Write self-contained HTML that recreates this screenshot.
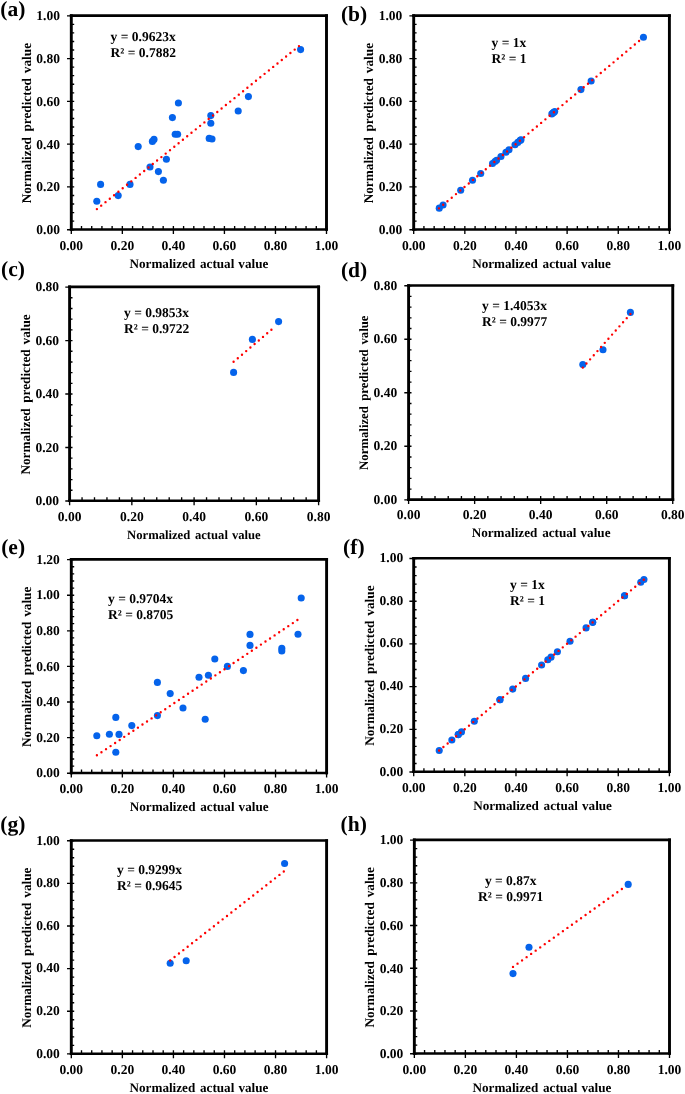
<!DOCTYPE html>
<html lang="en"><head><meta charset="utf-8"><title>Normalized predicted vs actual value</title>
<style>html,body{margin:0;padding:0;background:#fff}body{width:685px;height:1094px;overflow:hidden}svg{display:block;filter:blur(0.3px)}text{font-family:"Liberation Serif","Times New Roman",Times,serif;font-weight:bold;fill:#000;white-space:pre;text-rendering:geometricPrecision}.tk{font-size:13.5px}.ti{font-size:13.15px}.eq{font-size:13.5px}.lb{font-size:21.5px}.axv{stroke:#000;stroke-width:2.9;fill:none}.axh{stroke:#000;stroke-width:2.6;fill:none}.t{stroke:#000;stroke-width:1.35;fill:none}.d{fill:#0563EB}.tl{stroke:#FF0000;stroke-width:2.4;stroke-linecap:round;stroke-dasharray:0 5.5;fill:none}</style></head><body>
<svg width="685" height="1094" viewBox="0 0 685 1094">
<rect width="685" height="1094" fill="#fff"/>
<g>
<text class="lb" x="0.35" y="16.2">(a)</text>
<path class="t" d="M71.3 226V234M81.51 226V229.5M91.72 226V229.5M101.92 226V229.5M112.13 226V229.5M122.34 226V234M132.55 226V229.5M142.76 226V229.5M152.96 226V229.5M163.17 226V229.5M173.38 226V234M183.59 226V229.5M193.8 226V229.5M204 226V229.5M214.21 226V229.5M224.42 226V234M234.63 226V229.5M244.84 226V229.5M255.04 226V229.5M265.25 226V229.5M275.46 226V234M285.67 226V229.5M295.88 226V229.5M306.08 226V229.5M316.29 226V229.5M326.5 226V234M67 229.7H74.2M71.3 221.14H74.2M71.3 212.59H74.2M71.3 204.03H74.2M71.3 195.48H74.2M67 186.92H74.2M71.3 178.36H74.2M71.3 169.81H74.2M71.3 161.25H74.2M71.3 152.7H74.2M67 144.14H74.2M71.3 135.58H74.2M71.3 127.03H74.2M71.3 118.47H74.2M71.3 109.92H74.2M67 101.36H74.2M71.3 92.8H74.2M71.3 84.25H74.2M71.3 75.69H74.2M71.3 67.14H74.2M67 58.58H74.2M71.3 50.02H74.2M71.3 41.47H74.2M71.3 32.91H74.2M71.3 24.36H74.2M67 15.8H74.2"/>
<path class="axv" d="M71.3 14.3V230.8M326.5 14.3V230.8"/>
<path class="axh" d="M69.85 15.6H327.95M69.85 229.5H327.95"/>
<text class="tk" text-anchor="middle" x="71.3" y="250.1">0.00</text>
<text class="tk" text-anchor="middle" x="122.34" y="250.1">0.20</text>
<text class="tk" text-anchor="middle" x="173.38" y="250.1">0.40</text>
<text class="tk" text-anchor="middle" x="224.42" y="250.1">0.60</text>
<text class="tk" text-anchor="middle" x="275.46" y="250.1">0.80</text>
<text class="tk" text-anchor="middle" x="326.5" y="250.1">1.00</text>
<text class="tk" text-anchor="end" x="59.9" y="234.1">0.00</text>
<text class="tk" text-anchor="end" x="59.9" y="191.32">0.20</text>
<text class="tk" text-anchor="end" x="59.9" y="148.54">0.40</text>
<text class="tk" text-anchor="end" x="59.9" y="105.76">0.60</text>
<text class="tk" text-anchor="end" x="59.9" y="62.98">0.80</text>
<text class="tk" text-anchor="end" x="59.9" y="20.2">1.00</text>
<text class="ti" text-anchor="middle" x="198.9" y="267.7">Normalized<tspan dx="1.5"> actual</tspan><tspan dx="0.8"> value</tspan></text>
<text class="ti" style="font-size:13.25px" text-anchor="middle" transform="translate(30.9 123.15) rotate(-90)">Normalized<tspan dx="2.2"> predicted</tspan><tspan dx="1.6"> value</tspan></text>
<text class="eq" x="110.6" y="41.4">y = 0.9623x</text>
<text class="eq" x="110.6" y="57.4">R² = 0.7882</text>
<g class="d"><circle cx="96.8" cy="201.2" r="3.55"/><circle cx="100.6" cy="184.4" r="3.55"/><circle cx="118.2" cy="195.6" r="3.55"/><circle cx="130" cy="184.4" r="3.55"/><circle cx="138.2" cy="146.6" r="3.55"/><circle cx="150" cy="167" r="3.55"/><circle cx="152.4" cy="141.4" r="3.55"/><circle cx="154" cy="139.4" r="3.55"/><circle cx="158.4" cy="171.6" r="3.55"/><circle cx="163.4" cy="180.2" r="3.55"/><circle cx="166.4" cy="159.2" r="3.55"/><circle cx="172.4" cy="117.6" r="3.55"/><circle cx="175.2" cy="134.2" r="3.55"/><circle cx="177.6" cy="134.2" r="3.55"/><circle cx="178.4" cy="103" r="3.55"/><circle cx="209.2" cy="138.4" r="3.55"/><circle cx="212" cy="139" r="3.55"/><circle cx="210.8" cy="115.6" r="3.55"/><circle cx="210.8" cy="123.2" r="3.55"/><circle cx="238.2" cy="111" r="3.55"/><circle cx="248.4" cy="96.6" r="3.55"/><circle cx="300.6" cy="49.6" r="3.55"/></g>
<path class="tl" style="stroke-dasharray:0 5.524" d="M96.9 209.1L299 46.1"/>
</g>
<g>
<text class="lb" x="340.9" y="20.8">(b)</text>
<path class="t" d="M413.7 226V234M423.93 226V229.5M434.16 226V229.5M444.38 226V229.5M454.61 226V229.5M464.84 226V234M475.07 226V229.5M485.3 226V229.5M495.52 226V229.5M505.75 226V229.5M515.98 226V234M526.21 226V229.5M536.44 226V229.5M546.66 226V229.5M556.89 226V229.5M567.12 226V234M577.35 226V229.5M587.58 226V229.5M597.8 226V229.5M608.03 226V229.5M618.26 226V234M628.49 226V229.5M638.72 226V229.5M648.94 226V229.5M659.17 226V229.5M669.4 226V234M409.4 229.7H416.6M413.7 221.14H416.6M413.7 212.59H416.6M413.7 204.03H416.6M413.7 195.48H416.6M409.4 186.92H416.6M413.7 178.36H416.6M413.7 169.81H416.6M413.7 161.25H416.6M413.7 152.7H416.6M409.4 144.14H416.6M413.7 135.58H416.6M413.7 127.03H416.6M413.7 118.47H416.6M413.7 109.92H416.6M409.4 101.36H416.6M413.7 92.8H416.6M413.7 84.25H416.6M413.7 75.69H416.6M413.7 67.14H416.6M409.4 58.58H416.6M413.7 50.02H416.6M413.7 41.47H416.6M413.7 32.91H416.6M413.7 24.36H416.6M409.4 15.8H416.6"/>
<path class="axv" d="M413.7 14.3V230.8M669.4 14.3V230.8"/>
<path class="axh" d="M412.25 15.6H670.85M412.25 229.5H670.85"/>
<text class="tk" text-anchor="middle" x="413.7" y="250.1">0.00</text>
<text class="tk" text-anchor="middle" x="464.84" y="250.1">0.20</text>
<text class="tk" text-anchor="middle" x="515.98" y="250.1">0.40</text>
<text class="tk" text-anchor="middle" x="567.12" y="250.1">0.60</text>
<text class="tk" text-anchor="middle" x="618.26" y="250.1">0.80</text>
<text class="tk" text-anchor="middle" x="669.4" y="250.1">1.00</text>
<text class="tk" text-anchor="end" x="402.3" y="234.2">0.00</text>
<text class="tk" text-anchor="end" x="402.3" y="191.42">0.20</text>
<text class="tk" text-anchor="end" x="402.3" y="148.64">0.40</text>
<text class="tk" text-anchor="end" x="402.3" y="105.86">0.60</text>
<text class="tk" text-anchor="end" x="402.3" y="63.08">0.80</text>
<text class="tk" text-anchor="end" x="402.3" y="20.3">1.00</text>
<text class="ti" text-anchor="middle" x="541.55" y="267.7">Normalized<tspan dx="1.5"> actual</tspan><tspan dx="0.8"> value</tspan></text>
<text class="ti" style="font-size:13.25px" text-anchor="middle" transform="translate(373.4 123.15) rotate(-90)">Normalized<tspan dx="2.2"> predicted</tspan><tspan dx="1.6"> value</tspan></text>
<text class="eq" x="491.6" y="47.4">y = 1x</text>
<text class="eq" x="491.6" y="63.4">R² = 1</text>
<g class="d"><circle cx="439.25" cy="208.13" r="3.55"/><circle cx="443.06" cy="204.94" r="3.55"/><circle cx="460.69" cy="190.19" r="3.55"/><circle cx="472.52" cy="180.3" r="3.55"/><circle cx="480.73" cy="173.43" r="3.55"/><circle cx="492.55" cy="163.54" r="3.55"/><circle cx="494.96" cy="161.52" r="3.55"/><circle cx="496.56" cy="160.18" r="3.55"/><circle cx="500.97" cy="156.5" r="3.55"/><circle cx="505.98" cy="152.3" r="3.55"/><circle cx="508.99" cy="149.79" r="3.55"/><circle cx="515" cy="144.76" r="3.55"/><circle cx="517.8" cy="142.41" r="3.55"/><circle cx="520.21" cy="140.4" r="3.55"/><circle cx="521.01" cy="139.73" r="3.55"/><circle cx="551.87" cy="113.92" r="3.55"/><circle cx="554.68" cy="111.57" r="3.55"/><circle cx="553.47" cy="112.58" r="3.55"/><circle cx="553.47" cy="112.58" r="3.55"/><circle cx="580.93" cy="89.61" r="3.55"/><circle cx="591.15" cy="81.06" r="3.55"/><circle cx="643.45" cy="37.31" r="3.55"/></g>
<path class="tl" style="stroke-dasharray:0 5.551" d="M438.96 208.37L643.32 37.42"/>
</g>
<g>
<text class="lb" x="1.05" y="276.4">(c)</text>
<path class="t" d="M69.6 497.25V505.25M82.05 497.25V500.75M94.5 497.25V500.75M106.95 497.25V500.75M119.4 497.25V500.75M131.85 497.25V505.25M144.3 497.25V500.75M156.75 497.25V500.75M169.2 497.25V500.75M181.65 497.25V500.75M194.1 497.25V505.25M206.55 497.25V500.75M219 497.25V500.75M231.45 497.25V500.75M243.9 497.25V500.75M256.35 497.25V505.25M268.8 497.25V500.75M281.25 497.25V500.75M293.7 497.25V500.75M306.15 497.25V500.75M318.6 497.25V505.25M65.3 500.95H72.5M69.6 490.26H72.5M69.6 479.56H72.5M69.6 468.87H72.5M69.6 458.18H72.5M65.3 447.49H72.5M69.6 436.8H72.5M69.6 426.1H72.5M69.6 415.41H72.5M69.6 404.72H72.5M65.3 394.02H72.5M69.6 383.33H72.5M69.6 372.64H72.5M69.6 361.95H72.5M69.6 351.25H72.5M65.3 340.56H72.5M69.6 329.87H72.5M69.6 319.18H72.5M69.6 308.48H72.5M69.6 297.79H72.5M65.3 287.1H72.5"/>
<path class="axv" d="M69.6 285.6V502.05M318.6 285.6V502.05"/>
<path class="axh" d="M68.15 286.9H320.05M68.15 500.75H320.05"/>
<text class="tk" text-anchor="middle" x="69.6" y="520.95">0.00</text>
<text class="tk" text-anchor="middle" x="131.85" y="520.95">0.20</text>
<text class="tk" text-anchor="middle" x="194.1" y="520.95">0.40</text>
<text class="tk" text-anchor="middle" x="256.35" y="520.95">0.60</text>
<text class="tk" text-anchor="middle" x="318.6" y="520.95">0.80</text>
<text class="tk" text-anchor="end" x="59" y="505.25">0.00</text>
<text class="tk" text-anchor="end" x="59" y="451.79">0.20</text>
<text class="tk" text-anchor="end" x="59" y="398.32">0.40</text>
<text class="tk" text-anchor="end" x="59" y="344.86">0.60</text>
<text class="tk" text-anchor="end" x="59" y="291.4">0.80</text>
<text class="ti" style="font-size:12.65px" text-anchor="middle" x="193.9" y="538.75">Normalized<tspan dx="1.5"> actual</tspan><tspan dx="0.8"> value</tspan></text>
<text class="ti" style="font-size:13.25px" text-anchor="middle" transform="translate(30.3 394.43) rotate(-90)">Normalized<tspan dx="2.2"> predicted</tspan><tspan dx="1.6"> value</tspan></text>
<text class="eq" x="124" y="317">y = 0.9853x</text>
<text class="eq" x="124" y="333">R² = 0.9722</text>
<g class="d"><circle cx="233.6" cy="372.4" r="3.55"/><circle cx="252.4" cy="339.4" r="3.55"/><circle cx="278.6" cy="321.6" r="3.55"/></g>
<path class="tl" style="stroke-dasharray:0 5.506" d="M233.6 361.8L275.6 326.2"/>
</g>
<g>
<text class="lb" x="340.9" y="276.5">(d)</text>
<path class="t" d="M408.6 496.1V504.1M421.81 496.1V499.6M435.02 496.1V499.6M448.22 496.1V499.6M461.43 496.1V499.6M474.64 496.1V504.1M487.85 496.1V499.6M501.05 496.1V499.6M514.26 496.1V499.6M527.47 496.1V499.6M540.67 496.1V504.1M553.88 496.1V499.6M567.09 496.1V499.6M580.3 496.1V499.6M593.5 496.1V499.6M606.71 496.1V504.1M619.92 496.1V499.6M633.13 496.1V499.6M646.34 496.1V499.6M659.54 496.1V499.6M672.75 496.1V504.1M404.3 499.8H411.5M408.6 489.1H411.5M408.6 478.39H411.5M408.6 467.69H411.5M408.6 456.98H411.5M404.3 446.28H411.5M408.6 435.57H411.5M408.6 424.87H411.5M408.6 414.16H411.5M408.6 403.45H411.5M404.3 392.75H411.5M408.6 382.05H411.5M408.6 371.34H411.5M408.6 360.63H411.5M408.6 349.93H411.5M404.3 339.22H411.5M408.6 328.52H411.5M408.6 317.81H411.5M408.6 307.11H411.5M408.6 296.4H411.5M404.3 285.7H411.5"/>
<path class="axv" d="M408.6 284.2V500.9M672.75 284.2V500.9"/>
<path class="axh" d="M407.15 285.5H674.2M407.15 499.6H674.2"/>
<text class="tk" text-anchor="middle" x="408.6" y="519.4">0.00</text>
<text class="tk" text-anchor="middle" x="474.64" y="519.4">0.20</text>
<text class="tk" text-anchor="middle" x="540.67" y="519.4">0.40</text>
<text class="tk" text-anchor="middle" x="606.71" y="519.4">0.60</text>
<text class="tk" text-anchor="middle" x="672.75" y="519.4">0.80</text>
<text class="tk" text-anchor="end" x="397.2" y="503.7">0.00</text>
<text class="tk" text-anchor="end" x="397.2" y="450.18">0.20</text>
<text class="tk" text-anchor="end" x="397.2" y="396.65">0.40</text>
<text class="tk" text-anchor="end" x="397.2" y="343.12">0.60</text>
<text class="tk" text-anchor="end" x="397.2" y="289.6">0.80</text>
<text class="ti" text-anchor="middle" x="541.07" y="537.3">Normalized<tspan dx="1.5"> actual</tspan><tspan dx="0.8"> value</tspan></text>
<text class="ti" style="font-size:12.75px" text-anchor="middle" transform="translate(367.7 392.7) rotate(-90)">Normalized<tspan dx="2.2"> predicted</tspan><tspan dx="1.6"> value</tspan></text>
<text class="eq" x="482" y="310">y = 1.4053x</text>
<text class="eq" x="482" y="326">R² = 0.9977</text>
<g class="d"><circle cx="582.8" cy="364.6" r="3.55"/><circle cx="603" cy="349.8" r="3.55"/><circle cx="630.4" cy="312.4" r="3.55"/></g>
<path class="tl" style="stroke-dasharray:0 5.514" d="M582.8 367.6L630.4 314"/>
</g>
<g>
<text class="lb" x="1.2" y="553.6">(e)</text>
<path class="t" d="M71.3 769.5V777.5M81.51 769.5V773M91.72 769.5V773M101.94 769.5V773M112.15 769.5V773M122.36 769.5V777.5M132.57 769.5V773M142.78 769.5V773M153 769.5V773M163.21 769.5V773M173.42 769.5V777.5M183.63 769.5V773M193.84 769.5V773M204.06 769.5V773M214.27 769.5V773M224.48 769.5V777.5M234.69 769.5V773M244.9 769.5V773M255.12 769.5V773M265.33 769.5V773M275.54 769.5V777.5M285.75 769.5V773M295.96 769.5V773M306.18 769.5V773M316.39 769.5V773M326.6 769.5V777.5M67 773.2H74.2M71.3 766.08H74.2M71.3 758.96H74.2M71.3 751.84H74.2M71.3 744.72H74.2M67 737.6H74.2M71.3 730.48H74.2M71.3 723.36H74.2M71.3 716.24H74.2M71.3 709.12H74.2M67 702H74.2M71.3 694.88H74.2M71.3 687.76H74.2M71.3 680.64H74.2M71.3 673.52H74.2M67 666.4H74.2M71.3 659.28H74.2M71.3 652.16H74.2M71.3 645.04H74.2M71.3 637.92H74.2M67 630.8H74.2M71.3 623.68H74.2M71.3 616.56H74.2M71.3 609.44H74.2M71.3 602.32H74.2M67 595.2H74.2M71.3 588.08H74.2M71.3 580.96H74.2M71.3 573.84H74.2M71.3 566.72H74.2M67 559.6H74.2"/>
<path class="axv" d="M71.3 558.1V774.3M326.6 558.1V774.3"/>
<path class="axh" d="M69.85 559.4H328.05M69.85 773H328.05"/>
<text class="tk" text-anchor="middle" x="71.3" y="793.2">0.00</text>
<text class="tk" text-anchor="middle" x="122.36" y="793.2">0.20</text>
<text class="tk" text-anchor="middle" x="173.42" y="793.2">0.40</text>
<text class="tk" text-anchor="middle" x="224.48" y="793.2">0.60</text>
<text class="tk" text-anchor="middle" x="275.54" y="793.2">0.80</text>
<text class="tk" text-anchor="middle" x="326.6" y="793.2">1.00</text>
<text class="tk" text-anchor="end" x="59.8" y="777.35">0.00</text>
<text class="tk" text-anchor="end" x="59.8" y="741.75">0.20</text>
<text class="tk" text-anchor="end" x="59.8" y="706.15">0.40</text>
<text class="tk" text-anchor="end" x="59.8" y="670.55">0.60</text>
<text class="tk" text-anchor="end" x="59.8" y="634.95">0.80</text>
<text class="tk" text-anchor="end" x="59.8" y="599.35">1.00</text>
<text class="tk" text-anchor="end" x="59.8" y="563.75">1.20</text>
<text class="ti" text-anchor="middle" x="199.15" y="811.3">Normalized<tspan dx="1.5"> actual</tspan><tspan dx="0.8"> value</tspan></text>
<text class="ti" style="font-size:13.25px" text-anchor="middle" transform="translate(31.3 666.8) rotate(-90)">Normalized<tspan dx="2.2"> predicted</tspan><tspan dx="1.6"> value</tspan></text>
<text class="eq" x="108" y="603.2">y = 0.9704x</text>
<text class="eq" x="108" y="619.2">R² = 0.8705</text>
<g class="d"><circle cx="96.8" cy="735.8" r="3.55"/><circle cx="109.4" cy="734.2" r="3.55"/><circle cx="119" cy="734.4" r="3.55"/><circle cx="115.8" cy="717.4" r="3.55"/><circle cx="115.8" cy="752.2" r="3.55"/><circle cx="131.8" cy="725.6" r="3.55"/><circle cx="157.4" cy="715.6" r="3.55"/><circle cx="157.4" cy="682.4" r="3.55"/><circle cx="170.2" cy="693.6" r="3.55"/><circle cx="183" cy="708" r="3.55"/><circle cx="205.2" cy="719.2" r="3.55"/><circle cx="199" cy="677.2" r="3.55"/><circle cx="208.4" cy="675.2" r="3.55"/><circle cx="214.8" cy="659" r="3.55"/><circle cx="227.4" cy="666.4" r="3.55"/><circle cx="243.4" cy="670.6" r="3.55"/><circle cx="250" cy="634.4" r="3.55"/><circle cx="250" cy="645.4" r="3.55"/><circle cx="281.8" cy="648.4" r="3.55"/><circle cx="281.8" cy="651" r="3.55"/><circle cx="298" cy="634.2" r="3.55"/><circle cx="301.2" cy="598" r="3.55"/></g>
<path class="tl" style="stroke-dasharray:0 5.497" d="M96.9 755.3L297.4 620"/>
</g>
<g>
<text class="lb" x="343.1" y="553.6">(f)</text>
<path class="t" d="M413.7 768.3V776.3M423.93 768.3V771.8M434.16 768.3V771.8M444.38 768.3V771.8M454.61 768.3V771.8M464.84 768.3V776.3M475.07 768.3V771.8M485.3 768.3V771.8M495.52 768.3V771.8M505.75 768.3V771.8M515.98 768.3V776.3M526.21 768.3V771.8M536.44 768.3V771.8M546.66 768.3V771.8M556.89 768.3V771.8M567.12 768.3V776.3M577.35 768.3V771.8M587.58 768.3V771.8M597.8 768.3V771.8M608.03 768.3V771.8M618.26 768.3V776.3M628.49 768.3V771.8M638.72 768.3V771.8M648.94 768.3V771.8M659.17 768.3V771.8M669.4 768.3V776.3M409.4 772H416.6M413.7 763.46H416.6M413.7 754.92H416.6M413.7 746.38H416.6M413.7 737.84H416.6M409.4 729.3H416.6M413.7 720.76H416.6M413.7 712.22H416.6M413.7 703.68H416.6M413.7 695.14H416.6M409.4 686.6H416.6M413.7 678.06H416.6M413.7 669.52H416.6M413.7 660.98H416.6M413.7 652.44H416.6M409.4 643.9H416.6M413.7 635.36H416.6M413.7 626.82H416.6M413.7 618.28H416.6M413.7 609.74H416.6M409.4 601.2H416.6M413.7 592.66H416.6M413.7 584.12H416.6M413.7 575.58H416.6M413.7 567.04H416.6M409.4 558.5H416.6"/>
<path class="axv" d="M413.7 557V773.1M669.4 557V773.1"/>
<path class="axh" d="M412.25 558.3H670.85M412.25 771.8H670.85"/>
<text class="tk" text-anchor="middle" x="413.7" y="792.1">0.00</text>
<text class="tk" text-anchor="middle" x="464.84" y="792.1">0.20</text>
<text class="tk" text-anchor="middle" x="515.98" y="792.1">0.40</text>
<text class="tk" text-anchor="middle" x="567.12" y="792.1">0.60</text>
<text class="tk" text-anchor="middle" x="618.26" y="792.1">0.80</text>
<text class="tk" text-anchor="middle" x="669.4" y="792.1">1.00</text>
<text class="tk" text-anchor="end" x="403.2" y="775.5">0.00</text>
<text class="tk" text-anchor="end" x="403.2" y="732.8">0.20</text>
<text class="tk" text-anchor="end" x="403.2" y="690.1">0.40</text>
<text class="tk" text-anchor="end" x="403.2" y="647.4">0.60</text>
<text class="tk" text-anchor="end" x="403.2" y="604.7">0.80</text>
<text class="tk" text-anchor="end" x="403.2" y="562">1.00</text>
<text class="ti" text-anchor="middle" x="542.55" y="810.1">Normalized<tspan dx="1.5"> actual</tspan><tspan dx="0.8"> value</tspan></text>
<text class="ti" style="font-size:13.25px" text-anchor="middle" transform="translate(373.7 665.65) rotate(-90)">Normalized<tspan dx="2.2"> predicted</tspan><tspan dx="1.6"> value</tspan></text>
<text class="eq" x="510" y="588.6">y = 1x</text>
<text class="eq" x="510" y="604.6">R² = 1</text>
<g class="d"><circle cx="439.24" cy="750.48" r="3.55"/><circle cx="451.86" cy="739.94" r="3.55"/><circle cx="461.47" cy="731.91" r="3.55"/><circle cx="458.27" cy="734.59" r="3.55"/><circle cx="458.27" cy="734.59" r="3.55"/><circle cx="474.29" cy="721.21" r="3.55"/><circle cx="499.93" cy="699.8" r="3.55"/><circle cx="499.93" cy="699.8" r="3.55"/><circle cx="512.75" cy="689.09" r="3.55"/><circle cx="525.58" cy="678.39" r="3.55"/><circle cx="547.81" cy="659.82" r="3.55"/><circle cx="541.6" cy="665.01" r="3.55"/><circle cx="551.01" cy="657.15" r="3.55"/><circle cx="557.42" cy="651.8" r="3.55"/><circle cx="570.04" cy="641.26" r="3.55"/><circle cx="586.07" cy="627.88" r="3.55"/><circle cx="592.68" cy="622.36" r="3.55"/><circle cx="592.68" cy="622.36" r="3.55"/><circle cx="624.53" cy="595.76" r="3.55"/><circle cx="624.53" cy="595.76" r="3.55"/><circle cx="640.76" cy="582.22" r="3.55"/><circle cx="643.96" cy="579.54" r="3.55"/></g>
<path class="tl" style="stroke-dasharray:0 5.554" d="M439.14 750.56L643.78 579.69"/>
</g>
<g>
<text class="lb" x="0.35" y="830.8">(g)</text>
<path class="t" d="M71.3 1050.2V1058.2M81.51 1050.2V1053.7M91.72 1050.2V1053.7M101.94 1050.2V1053.7M112.15 1050.2V1053.7M122.36 1050.2V1058.2M132.57 1050.2V1053.7M142.78 1050.2V1053.7M153 1050.2V1053.7M163.21 1050.2V1053.7M173.42 1050.2V1058.2M183.63 1050.2V1053.7M193.84 1050.2V1053.7M204.06 1050.2V1053.7M214.27 1050.2V1053.7M224.48 1050.2V1058.2M234.69 1050.2V1053.7M244.9 1050.2V1053.7M255.12 1050.2V1053.7M265.33 1050.2V1053.7M275.54 1050.2V1058.2M285.75 1050.2V1053.7M295.96 1050.2V1053.7M306.18 1050.2V1053.7M316.39 1050.2V1053.7M326.6 1050.2V1058.2M67 1053.9H74.2M71.3 1045.37H74.2M71.3 1036.84H74.2M71.3 1028.32H74.2M71.3 1019.79H74.2M67 1011.26H74.2M71.3 1002.73H74.2M71.3 994.2H74.2M71.3 985.68H74.2M71.3 977.15H74.2M67 968.62H74.2M71.3 960.09H74.2M71.3 951.56H74.2M71.3 943.04H74.2M71.3 934.51H74.2M67 925.98H74.2M71.3 917.45H74.2M71.3 908.92H74.2M71.3 900.4H74.2M71.3 891.87H74.2M67 883.34H74.2M71.3 874.81H74.2M71.3 866.28H74.2M71.3 857.76H74.2M71.3 849.23H74.2M67 840.7H74.2"/>
<path class="axv" d="M71.3 839.2V1055M326.6 839.2V1055"/>
<path class="axh" d="M69.85 840.5H328.05M69.85 1053.7H328.05"/>
<text class="tk" text-anchor="middle" x="71.3" y="1074.1">0.00</text>
<text class="tk" text-anchor="middle" x="122.36" y="1074.1">0.20</text>
<text class="tk" text-anchor="middle" x="173.42" y="1074.1">0.40</text>
<text class="tk" text-anchor="middle" x="224.48" y="1074.1">0.60</text>
<text class="tk" text-anchor="middle" x="275.54" y="1074.1">0.80</text>
<text class="tk" text-anchor="middle" x="326.6" y="1074.1">1.00</text>
<text class="tk" text-anchor="end" x="59.8" y="1057.7">0.00</text>
<text class="tk" text-anchor="end" x="59.8" y="1015.06">0.20</text>
<text class="tk" text-anchor="end" x="59.8" y="972.42">0.40</text>
<text class="tk" text-anchor="end" x="59.8" y="929.78">0.60</text>
<text class="tk" text-anchor="end" x="59.8" y="887.14">0.80</text>
<text class="tk" text-anchor="end" x="59.8" y="844.5">1.00</text>
<text class="ti" text-anchor="middle" x="198.95" y="1091.7">Normalized<tspan dx="1.5"> actual</tspan><tspan dx="0.8"> value</tspan></text>
<text class="ti" style="font-size:13.25px" text-anchor="middle" transform="translate(31.3 947.7) rotate(-90)">Normalized<tspan dx="2.2"> predicted</tspan><tspan dx="1.6"> value</tspan></text>
<text class="eq" x="117" y="874.4">y = 0.9299x</text>
<text class="eq" x="117" y="890.4">R² = 0.9645</text>
<g class="d"><circle cx="170.2" cy="963.3" r="3.55"/><circle cx="186.2" cy="960.7" r="3.55"/><circle cx="284.6" cy="863.5" r="3.55"/></g>
<path class="tl" style="stroke-dasharray:0 5.548" d="M170.2 960.4L283.8 871.5"/>
</g>
<g>
<text class="lb" x="340.6" y="830.8">(h)</text>
<path class="t" d="M414.35 1050V1058M424.56 1050V1053.5M434.76 1050V1053.5M444.97 1050V1053.5M455.17 1050V1053.5M465.38 1050V1058M475.59 1050V1053.5M485.79 1050V1053.5M496 1050V1053.5M506.2 1050V1053.5M516.41 1050V1058M526.62 1050V1053.5M536.82 1050V1053.5M547.03 1050V1053.5M557.23 1050V1053.5M567.44 1050V1058M577.65 1050V1053.5M587.85 1050V1053.5M598.06 1050V1053.5M608.26 1050V1053.5M618.47 1050V1058M628.68 1050V1053.5M638.88 1050V1053.5M649.09 1050V1053.5M659.29 1050V1053.5M669.5 1050V1058M410.05 1053.7H417.25M414.35 1045.16H417.25M414.35 1036.61H417.25M414.35 1028.07H417.25M414.35 1019.52H417.25M410.05 1010.98H417.25M414.35 1002.44H417.25M414.35 993.89H417.25M414.35 985.35H417.25M414.35 976.8H417.25M410.05 968.26H417.25M414.35 959.72H417.25M414.35 951.17H417.25M414.35 942.63H417.25M414.35 934.08H417.25M410.05 925.54H417.25M414.35 917H417.25M414.35 908.45H417.25M414.35 899.91H417.25M414.35 891.36H417.25M410.05 882.82H417.25M414.35 874.28H417.25M414.35 865.73H417.25M414.35 857.19H417.25M414.35 848.64H417.25M410.05 840.1H417.25"/>
<path class="axv" d="M414.35 838.6V1054.8M669.5 838.6V1054.8"/>
<path class="axh" d="M412.9 839.9H670.95M412.9 1053.5H670.95"/>
<text class="tk" text-anchor="middle" x="414.35" y="1074.1">0.00</text>
<text class="tk" text-anchor="middle" x="465.38" y="1074.1">0.20</text>
<text class="tk" text-anchor="middle" x="516.41" y="1074.1">0.40</text>
<text class="tk" text-anchor="middle" x="567.44" y="1074.1">0.60</text>
<text class="tk" text-anchor="middle" x="618.47" y="1074.1">0.80</text>
<text class="tk" text-anchor="middle" x="669.5" y="1074.1">1.00</text>
<text class="tk" text-anchor="end" x="403.25" y="1058">0.00</text>
<text class="tk" text-anchor="end" x="403.25" y="1015.28">0.20</text>
<text class="tk" text-anchor="end" x="403.25" y="972.56">0.40</text>
<text class="tk" text-anchor="end" x="403.25" y="929.84">0.60</text>
<text class="tk" text-anchor="end" x="403.25" y="887.12">0.80</text>
<text class="tk" text-anchor="end" x="403.25" y="844.4">1.00</text>
<text class="ti" text-anchor="middle" x="541.92" y="1092">Normalized<tspan dx="1.5"> actual</tspan><tspan dx="0.8"> value</tspan></text>
<text class="ti" style="font-size:13.25px" text-anchor="middle" transform="translate(374.35 947.3) rotate(-90)">Normalized<tspan dx="2.2"> predicted</tspan><tspan dx="1.6"> value</tspan></text>
<text class="eq" text-anchor="middle" x="510.7" y="885.4">y = 0.87x</text>
<text class="eq" text-anchor="middle" x="510.7" y="901.4">R² = 0.9971</text>
<g class="d"><circle cx="513" cy="973.6" r="3.55"/><circle cx="529" cy="947.2" r="3.55"/><circle cx="628.2" cy="884.4" r="3.55"/></g>
<path class="tl" style="stroke-dasharray:0 5.579" d="M513 966.9L626.4 885.7"/>
</g>
</svg></body></html>
